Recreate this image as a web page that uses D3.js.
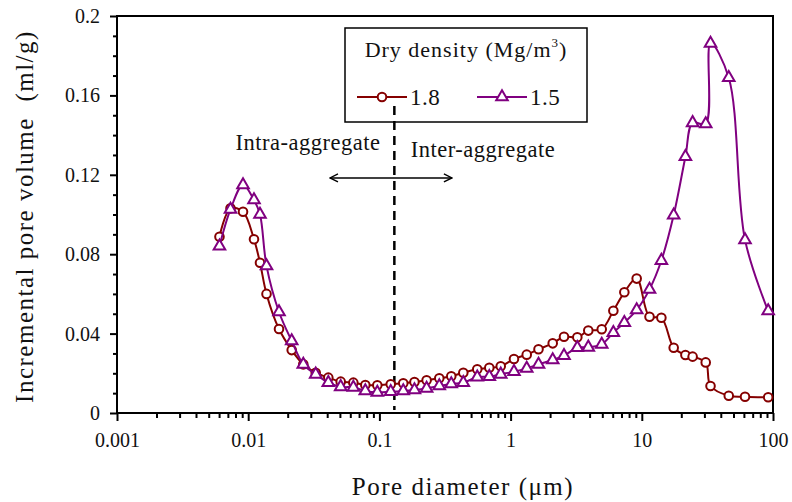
<!DOCTYPE html>
<html>
<head>
<meta charset="utf-8">
<script src="https://cdn.jsdelivr.net/npm/d3@7"></script>
<style>
  html, body { margin: 0; padding: 0; background: #fff; }
  svg { display: block; }
  text { font-family: "Liberation Serif", "DejaVu Serif", serif; fill: #111; }
</style>
</head>
<body>
<script>
// ---------------- data ----------------
const diameter = [0.00604, 0.00733, 0.00913, 0.01107, 0.0123, 0.01379, 0.01717, 0.02146, 0.0263, 0.0327,
  0.0408, 0.0507, 0.0633, 0.0781, 0.0964, 0.122, 0.152, 0.185, 0.229, 0.286,
  0.353, 0.436, 0.557, 0.688, 0.841, 1.061, 1.327, 1.632, 2.094, 2.553,
  3.225, 3.91, 4.95, 6.07, 7.36, 9.14, 11.45, 14.1, 17.5, 21.5,
  24.4, 30.7, 33.4, 46.0, 61.2, 91.9];
const density18 = [0.0888, 0.1031, 0.1014, 0.0875, 0.0757, 0.0600, 0.0423, 0.0317, 0.0245, 0.0203,
  0.0178, 0.0158, 0.0153, 0.0141, 0.0140, 0.0145, 0.0150, 0.0156, 0.0165, 0.0175,
  0.0185, 0.0203, 0.0220, 0.0228, 0.0235, 0.0272, 0.0294, 0.0321, 0.0351, 0.0384,
  0.0381, 0.0415, 0.0422, 0.0515, 0.0608, 0.0677, 0.0485, 0.0480, 0.0329, 0.0292,
  0.0284, 0.0255, 0.0136, 0.0087, 0.0082, 0.0079];
const density15 = [0.0841, 0.1026, 0.1149, 0.1073, 0.1000, 0.0741, 0.0509, 0.0363, 0.0245, 0.0195,
  0.0153, 0.0132, 0.0129, 0.0111, 0.0104, 0.0107, 0.0111, 0.0116, 0.0124, 0.0136,
  0.0146, 0.0153, 0.0180, 0.0183, 0.0195, 0.0208, 0.0225, 0.0245, 0.0267, 0.0289,
  0.0329, 0.0331, 0.0346, 0.0405, 0.0455, 0.0519, 0.0623, 0.0768, 0.0997, 0.1291,
  0.1462, 0.1456, 0.1862, 0.1689, 0.0872, 0.0514];
const seriesNames = ["1.8", "1.5"];
const xTickValues = [0.001, 0.01, 0.1, 1, 10, 100];
const xTickLabels = ["0.001", "0.01", "0.1", "1", "10", "100"];
const yTickValues = [0, 0.04, 0.08, 0.12, 0.16, 0.2];
const yTickLabels = ["0", "0.04", "0.08", "0.12", "0.16", "0.2"];
const boundaryDiameter = 0.13;          // intra/inter boundary
const arrowRange = [0.042, 0.357];      // double arrow extent (µm)
const arrowLevel = 0.1184;              // arrow height (ml/g)

// ---------------- layout ----------------
const W = 792, H = 502;
const L = 117, R = 773, T = 16, B = 413;
const colors = ["#850000", "#800080"];

const svg = d3.select("body").append("svg").attr("width", W).attr("height", H);

const x = d3.scaleLog().domain([0.001, 100]).range([L, R]);
const y = d3.scaleLinear().domain([0, 0.2]).range([B, T]);

// minor ticks
const xMinor = [];
for (let e = -3; e < 2; e++) for (let k = 2; k <= 9; k++) xMinor.push(k * Math.pow(10, e));
const yMinor = d3.range(0, 0.2001, 0.01).filter(v => !yTickValues.some(t => Math.abs(t - v) < 1e-9));

const axisStyle = g => {
  g.select(".domain").remove();
  g.selectAll("line").attr("stroke", "#000").attr("stroke-width", 2);
};

svg.append("g").attr("transform", `translate(0,${B})`)
  .call(d3.axisBottom(x).tickValues(xMinor).tickSize(5).tickFormat(""))
  .call(axisStyle);
svg.append("g").attr("transform", `translate(0,${B})`)
  .call(d3.axisBottom(x).tickValues(xTickValues).tickSize(8).tickPadding(12)
    .tickFormat((d, i) => xTickLabels[i]))
  .call(axisStyle)
  .call(g => g.selectAll("text").attr("font-size", 20).attr("fill", "#111")
    .attr("font-family", "Liberation Serif"));

svg.append("g").attr("transform", `translate(${L},0)`)
  .call(d3.axisLeft(y).tickValues(yMinor).tickSize(4).tickFormat(""))
  .call(axisStyle);
svg.append("g").attr("transform", `translate(${L},0)`)
  .call(d3.axisLeft(y).tickValues(yTickValues).tickSize(7).tickPadding(10)
    .tickFormat((d, i) => yTickLabels[i]))
  .call(axisStyle)
  .call(g => g.selectAll("text").attr("font-size", 20).attr("fill", "#111")
    .attr("font-family", "Liberation Serif"));

// frame
svg.append("rect").attr("x", L).attr("y", T).attr("width", R - L).attr("height", B - T)
  .attr("fill", "none").attr("stroke", "#000").attr("stroke-width", 2);

// axis titles
svg.append("text").attr("x", 463).attr("y", 495).attr("text-anchor", "middle")
  .attr("font-size", 25).attr("letter-spacing", 1.5).text("Pore diameter (μm)");
svg.append("text").attr("transform", `translate(33,${(T + B) / 2 + 2}) rotate(-90)`)
  .attr("text-anchor", "middle").attr("font-size", 25).attr("letter-spacing", 1.5)
  .attr("xml:space", "preserve").style("white-space", "pre")
  .text("Incremental pore volume  (ml/g)");

// boundary line & annotation
svg.append("line")
  .attr("x1", x(boundaryDiameter)).attr("x2", x(boundaryDiameter))
  .attr("y1", 106).attr("y2", 410)
  .attr("stroke", "#000").attr("stroke-width", 2.5).attr("stroke-dasharray", "9,6");

const defs = svg.append("defs");
defs.append("marker").attr("id", "ah").attr("viewBox", "0 0 10 10")
  .attr("refX", 9).attr("refY", 5).attr("markerWidth", 10).attr("markerHeight", 10)
  .attr("markerUnits", "userSpaceOnUse").attr("orient", "auto-start-reverse")
  .append("path").attr("d", "M1,1 L9,5 L1,9").attr("fill", "none")
  .attr("stroke", "#000").attr("stroke-width", 1.4);
svg.append("line")
  .attr("x1", x(arrowRange[0])).attr("x2", x(arrowRange[1]))
  .attr("y1", y(arrowLevel)).attr("y2", y(arrowLevel))
  .attr("stroke", "#000").attr("stroke-width", 1.4)
  .attr("marker-start", "url(#ah)").attr("marker-end", "url(#ah)");

svg.append("text").attr("x", 308).attr("y", 150).attr("text-anchor", "middle")
  .attr("font-size", 22.5).attr("letter-spacing", 0.5).text("Intra-aggregate");
svg.append("text").attr("x", 483).attr("y", 157).attr("text-anchor", "middle")
  .attr("font-size", 22.5).attr("letter-spacing", 0.5).text("Inter-aggregate");

// series
const data = [density18, density15].map((vals, s) =>
  diameter.map((d, i) => ({ d, v: vals[i], s })));

const line = d3.line().x(p => x(p.d)).y(p => y(p.v)).curve(d3.curveCatmullRom.alpha(0.5));
const tri = d3.symbol().type(d3.symbolTriangle).size(58);

data.forEach((pts, s) => {
  const g = svg.append("g");
  g.append("path").datum(pts).attr("d", line).attr("fill", "none")
    .attr("stroke", colors[s]).attr("stroke-width", 2);
  if (s === 0) {
    g.selectAll("circle").data(pts).join("circle")
      .attr("cx", p => x(p.d)).attr("cy", p => y(p.v)).attr("r", 4.3)
      .attr("fill", "#fff").attr("stroke", colors[s]).attr("stroke-width", 2);
  } else {
    g.selectAll("path.m").data(pts).join("path").attr("class", "m")
      .attr("transform", p => `translate(${x(p.d)},${y(p.v)})`).attr("d", tri)
      .attr("fill", "#fff").attr("stroke", colors[s]).attr("stroke-width", 2);
  }
});

// legend
const lg = svg.append("g");
lg.append("rect").attr("x", 345).attr("y", 28).attr("width", 242).attr("height", 94)
  .attr("fill", "#fff").attr("stroke", "#000").attr("stroke-width", 1.5);
const lt = lg.append("text").attr("x", 466).attr("y", 57).attr("text-anchor", "middle")
  .attr("font-size", 22).attr("letter-spacing", 1);
lt.append("tspan").text("Dry density (Mg/m");
lt.append("tspan").attr("font-size", 13).attr("dy", -10).text("3");
lt.append("tspan").attr("dy", 10).text(")");

const legX = [357, 477];
seriesNames.forEach((nm, s) => {
  const cx = legX[s] + 25, cy = 97;
  lg.append("line").attr("x1", legX[s]).attr("x2", legX[s] + 50).attr("y1", cy).attr("y2", cy)
    .attr("stroke", colors[s]).attr("stroke-width", 2);
  if (s === 0) {
    lg.append("circle").attr("cx", cx).attr("cy", cy).attr("r", 4.3)
      .attr("fill", "#fff").attr("stroke", colors[s]).attr("stroke-width", 2);
  } else {
    lg.append("path").attr("transform", `translate(${cx},${cy})`).attr("d", tri)
      .attr("fill", "#fff").attr("stroke", colors[s]).attr("stroke-width", 2);
  }
  lg.append("text").attr("x", legX[s] + 53).attr("y", cy + 8).attr("font-size", 23)
    .attr("letter-spacing", 0.5).text(nm);
});

// dashed line continues across the legend box bottom
svg.append("line")
  .attr("x1", x(boundaryDiameter)).attr("x2", x(boundaryDiameter))
  .attr("y1", 106).attr("y2", 122)
  .attr("stroke", "#000").attr("stroke-width", 2.5).attr("stroke-dasharray", "9,6");
</script>
</body>
</html>
